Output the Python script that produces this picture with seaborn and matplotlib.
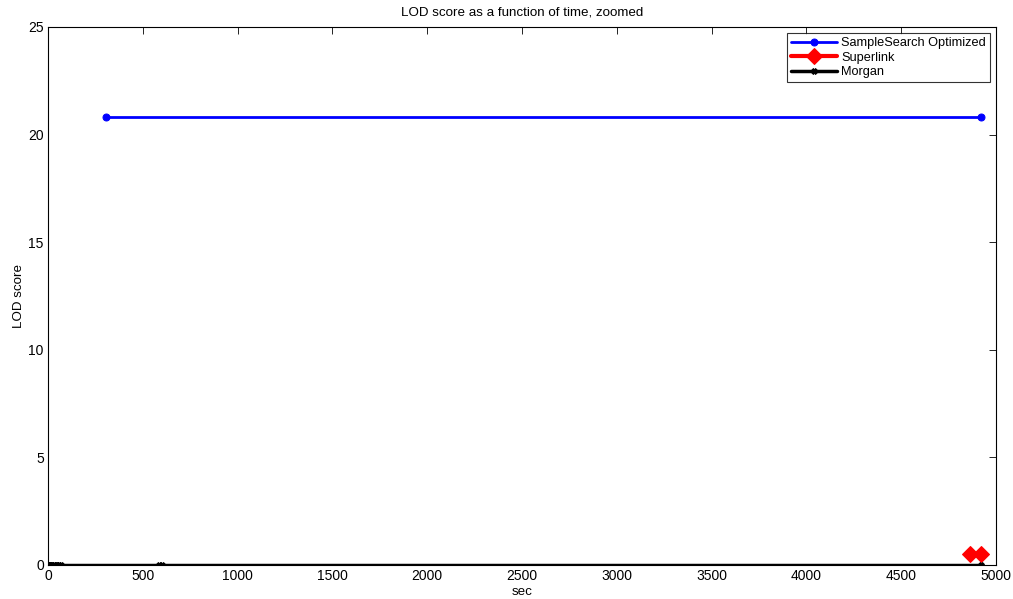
import matplotlib
matplotlib.use("Agg")
import matplotlib.pyplot as plt
import seaborn as sns
import pandas as pd

sns.set_style("white")
plt.rcParams['font.family'] = ['Liberation Sans', 'DejaVu Sans']
plt.rcParams['text.color'] = 'black'
plt.rcParams['axes.labelcolor'] = 'black'
plt.rcParams['xtick.color'] = 'black'
plt.rcParams['ytick.color'] = 'black'

ss_time = [306, 4921]
ss_lod = [20.82, 20.82]
sl_time = [4865, 4921]
sl_lod = [0.5, 0.5]
mg_time = [0, 5, 10, 15, 20, 30, 40, 50, 60, 70, 585, 600, 4921]
mg_lod = [0, 0, 0, 0, 0, 0, 0, 0, 0, 0, 0, 0, 0]

fig = plt.figure(figsize=(10.13, 5.99), dpi=100)
ax = fig.add_axes([48/1013, 34/599, 948/1013, 538/599])

sns.lineplot(x=ss_time, y=ss_lod, ax=ax, color='blue', marker='o', markersize=5,
             markeredgecolor='blue', linewidth=2, label='SampleSearch Optimized', sort=False)
sns.lineplot(x=sl_time, y=sl_lod, ax=ax, color='red', marker='D', markersize=8,
             markeredgecolor='red', linewidth=3, label='Superlink', sort=False)
sns.lineplot(x=mg_time, y=mg_lod, ax=ax, color='black', marker='X', markersize=4,
             markeredgecolor='black', linewidth=2.5, label='Morgan', sort=False)

ax.set_xlim(0, 5000)
ax.set_ylim(0, 25)
ax.set_xticks(range(0, 5001, 500))
ax.set_yticks(range(0, 26, 5))
ax.tick_params(direction='in', length=5, labelsize=10, top=True, right=True, width=0.6, pad=3,
               colors='black')
for s in ax.spines.values():
    s.set_linewidth(0.8)
    s.set_color('black')
ax.set_title('LOD score as a function of time, zoomed', fontsize=9.6, pad=8, color='black')
ax.set_xlabel('sec', fontsize=9.6, labelpad=2, color='black')
ax.set_ylabel('LOD score', fontsize=9.6, labelpad=2, color='black')
leg = ax.legend(loc='upper right', fontsize=9.2, frameon=True, fancybox=False,
                borderaxespad=0.5, handlelength=3.6, labelspacing=0.2, borderpad=0.3,
                handletextpad=0.3)
leg.get_frame().set_edgecolor('black')
leg.get_frame().set_linewidth(0.8)
for t in leg.get_texts():
    t.set_color('black')

fig.savefig('out.png', dpi=100)
